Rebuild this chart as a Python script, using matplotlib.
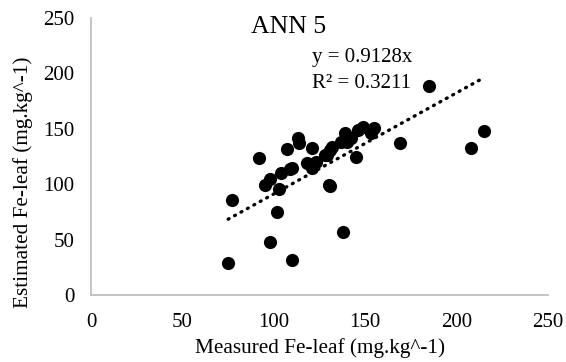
import numpy as np
import matplotlib.pyplot as plt

plt.rcParams['font.family'] = ['Liberation Serif', 'DejaVu Serif']

# measured vs estimated Fe-leaf (mg.kg^-1)
measured = [75, 77, 92, 95, 98, 98, 102, 103, 104, 107, 109, 110, 110, 113,
            114, 118, 121, 121, 123, 128, 129, 130, 131, 131, 132, 137, 138,
            139, 140, 142, 145, 146, 149, 153, 155, 169, 185, 208, 215]
estimated = [29, 86, 124, 99, 105, 48, 75, 96, 110, 132, 114, 115, 32, 142,
             137, 119, 115, 133, 120, 126, 126, 99, 98, 131, 134, 138, 57,
             146, 138, 142, 125, 149, 152, 146, 151, 137, 189, 133, 148]
slope = 0.9128
r2 = 0.3211

fig = plt.figure(figsize=(5.66, 3.62), dpi=100)
ax = fig.add_axes([0.161, 0.185, 0.807, 0.765])

ax.scatter(measured, estimated, s=90, color='black', zorder=3, linewidths=0)

# linear trend through origin, over the measured range
xt = np.array([min(measured), max(measured)])
ax.plot(xt, slope * xt, color='black', linestyle=(0, (0.3, 1.9)),
        linewidth=2.4, dash_capstyle='round', zorder=2)

ax.set_xlim(0, 250)
ax.set_ylim(0, 250)
ax.set_xticks(range(0, 251, 50))
ax.set_yticks(range(0, 251, 50))
ax.tick_params(length=0, labelsize=15)
ax.tick_params(axis='x', pad=13)
ax.tick_params(axis='y', pad=12)

for s in ['top', 'right']:
    ax.spines[s].set_visible(False)
for s in ['left', 'bottom']:
    ax.spines[s].set_color('#BFBFBF')
    ax.spines[s].set_linewidth(1.3)

fig.text(320 / 566, 1 - 348 / 362, 'Measured Fe-leaf (mg.kg^-1)',
         fontsize=15.3, ha='center', va='center')
fig.text(23 / 566, 1 - 182 / 362, 'Estimated Fe-leaf (mg.kg^-1)',
         fontsize=15.3, ha='center', va='center', rotation=90)

ax.text(108, 242, 'ANN 5', fontsize=18.5, ha='center', va='center')
ax.text(121, 214, f'y = {slope}x', fontsize=15, ha='left', va='center')
ax.text(121, 191, f'R² = {r2}', fontsize=15, ha='left', va='center')

fig.savefig('out.png', dpi=100)
